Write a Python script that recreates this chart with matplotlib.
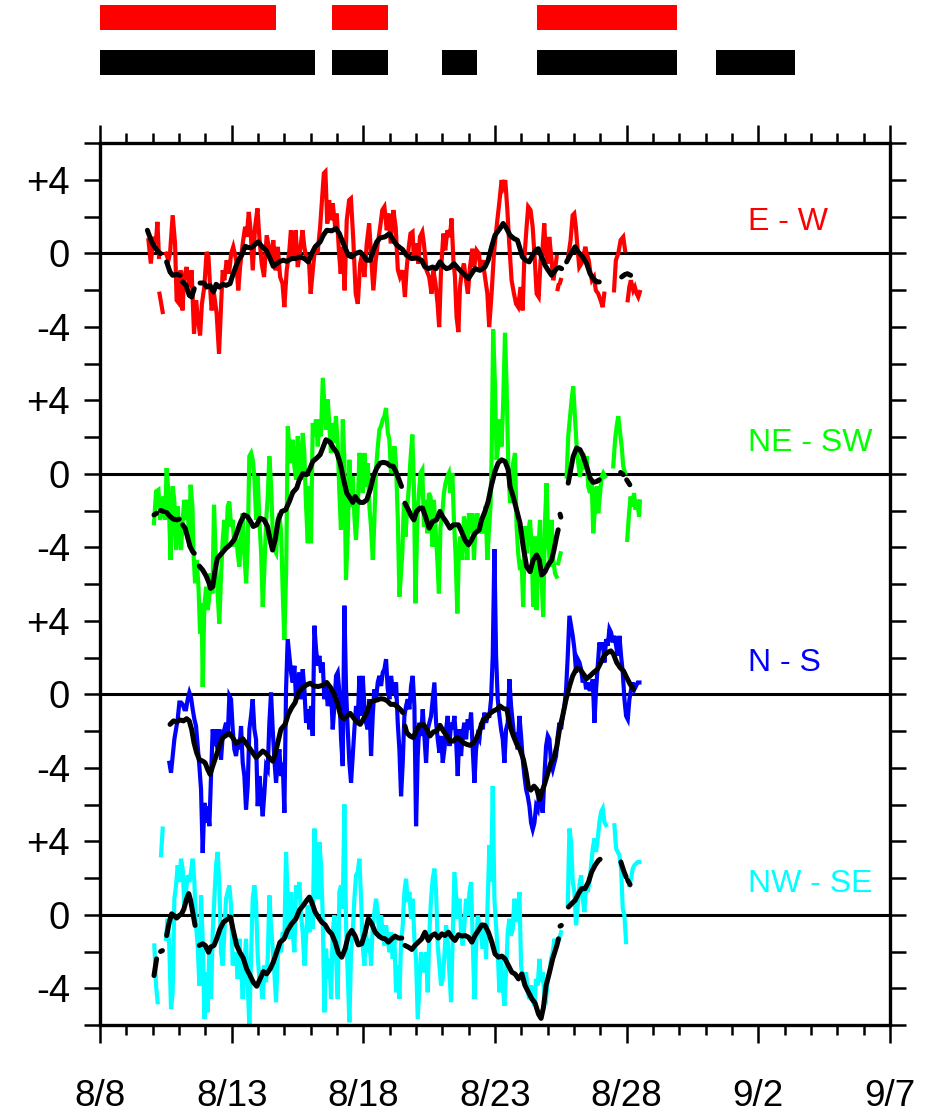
import numpy as np
import matplotlib
matplotlib.use("Agg")
import matplotlib.pyplot as plt
from matplotlib.ticker import FixedLocator, FixedFormatter, MultipleLocator

nan = np.nan

# ---------------------------------------------------------------- axis data
date_labels = ["8/8", "8/13", "8/18", "8/23", "8/28", "9/2", "9/7"]
date_ticks = [0, 5, 10, 15, 20, 25, 30]          # days since 8/8

# activity bars above the plot (start day, end day)
red_bars = [(0.0, 6.7), (8.8, 10.95), (16.6, 21.9)]
black_bars = [(0.0, 8.15), (8.8, 10.95), (13.0, 14.3), (16.6, 21.9), (23.4, 26.4)]

# vertical offsets of the four stacked records
offsets = {"E - W": 36, "NE - SW": 24, "N - S": 12, "NW - SE": 0}
colors = {"E - W": "#ff0000", "NE - SW": "#00ff00", "N - S": "#0000ff", "NW - SE": "#00ffff"}

# ---------------------------------------------------------------- E - W
ew_day = [1.84, 1.93, 2.03, 2.12, 2.18, 2.24, nan, 2.26, 2.38, nan,
          2.51, 2.60, 2.66, 2.76, 2.85, 2.91, 3.01, 3.06, 3.13, 3.20, 3.29, 3.39, 3.48, 3.57, 3.65,
          3.71, 3.80, 3.87, 3.96, 4.05, 4.12, 4.18, 4.24, 4.33, 4.43, 4.52, 4.60, 4.66, 4.72, 4.81,
          4.90, 4.98, 5.06, 5.17, 5.25, 5.32, 5.42, 5.51, 5.57, 5.65, 5.72, 5.80, 5.89, 5.98, 6.05,
          6.14, 6.23, 6.33, 6.41, 6.50, 6.58, 6.67, 6.75, 6.84, 6.93, 7.00, 7.09, 7.18, 7.25, 7.34,
          7.43, 7.51, 7.60, 7.69, 7.76, 7.85, 7.94, 8.00, 8.08, 8.17, 8.26, 8.36, 8.43, 8.50, 8.56,
          8.63, 8.70, 8.77, 8.84, 8.93, 8.99, 9.08, 9.14, 9.22, 9.29, 9.37, 9.46, 9.53, 9.62, 9.71,
          9.79, 9.88, 9.96, 10.04, 10.13, 10.22, 10.29, 10.38, 10.47, 10.55, 10.64, 10.72, 10.80,
          10.89, 10.96, 11.04, 11.14, 11.23, 11.31, 11.39, 11.49, 11.58, 11.64, 11.71, 11.79, 11.87,
          11.92, 12.00, 12.09, 12.15, 12.24, 12.30, 12.40, 12.50, 12.59, 12.66, 12.74, 12.82, 12.88,
          12.95, 13.04, 13.11, 13.19, 13.29, 13.35, 13.42, 13.48, 13.54, 13.61, 13.67, 13.73, 13.82,
          13.90, 13.97, 14.05, 14.14, 14.21, 14.30, 14.39, 14.45, 14.53, 14.62, 14.71, 14.78, 14.87,
          14.96, 15.06, 15.16, 15.25, 15.31, 15.39, 15.47, 15.54, 15.63, 15.72, 15.80, 15.88, 15.97,
          16.05, 16.11, 16.20, 16.26, 16.35, 16.43, 16.52, 16.58, 16.66, 16.73, 16.81, 16.87, 16.93,
          17.00, 17.06, 17.15, 17.21, 17.28, 17.34, nan, 17.38, 17.41, nan, 17.47, 17.50, nan,
          17.78, 17.87, 17.95, 18.01, 18.07, 18.14, 18.20, 18.28, 18.35, 18.43, 18.48, 18.56, 18.61,
          18.68, 18.76, 18.83, 18.92, 19.01, 19.09, 19.15, nan,
          19.52, 19.59, 19.68, 19.77, 19.87, 19.94, nan,
          20.04, 20.10, 20.16, 20.25, 20.31, 20.38, 20.44, 20.50]
ew_val = [0.71, -0.56, 0.89, 0.53, 1.71, -0.20, nan, -2.20, -3.20, nan,
          -0.02, -0.38, 0.00, 2.07, 0.53, -2.56, -2.75, -0.93, -3.11, -1.29, -0.75, -1.84, -0.93, -4.38, -2.56,
          -3.47, -4.47, -2.75, -1.84, 0.07, -0.20, -1.84, -3.11, -2.20, -3.29, -5.47, -2.75, -0.93, -1.47, -0.38,
          -1.11, -0.02, 0.35, -0.38, -2.02, -0.75, 0.53, 1.44, 0.89, 2.25, 1.25, -0.93, 1.44, 2.44, 0.89,
          -0.56, -1.29, 0.98, 0.35, -0.38, 0.71, -0.93, 0.35, -1.29, -1.65, -2.93, -0.93, -0.02, 1.25, -0.38,
          1.25, -0.75, 0.16, 1.25, 0.35, -0.38, -0.56, -2.20, -0.93, 0.35, -0.02, 1.44, 2.89, 4.35, 4.44,
          1.62, 2.89, 1.80, 2.71, 1.44, 2.16, -0.02, -1.11, 0.35, -2.02, 1.80, 2.89, 2.98, 0.71, -2.20,
          -2.75, -0.56, -0.02, -1.29, 0.53, 1.62, -0.02, -2.02, -0.38, 0.53, 1.44, 2.35, 2.53,
          1.25, 2.16, 0.53, 2.35, 1.40, -0.90, -1.29, -0.93, -2.38, -0.93, 0.16, 1.07, 1.16,
          -0.38, 0.53, -0.56, 0.89, 1.16, 0.53, -0.93, -1.29, -2.20, -0.93, -1.65, -2.75, -4.02,
          -0.93, 1.07, 0.16, 1.25, 0.89, 1.89, -0.38, -1.29, -3.47, -4.29, -1.84, -1.11, -0.56,
          -1.47, -2.20, -0.75, 0.25, -0.75, 0.16, -0.02, -0.93, -0.38, -1.29, -2.20, -4.02, -2.20,
          -0.02, 1.44, 2.71, 3.98, 3.62, 3.98, 2.35, 0.53, -1.47, -2.20, -2.75, -2.93, -1.84,
          -3.11, -0.38, 1.44, 2.53, 2.35, 1.44, -0.56, -2.20, -2.38, -0.38, 0.35, 1.62, -0.02,
          -0.56, 0.89, -0.38, -1.47, -0.93, -0.20, nan, -1.95, -1.75, nan, -1.60, -1.45, nan,
          -0.20, 0.71, 2.07, 2.16, 1.44, 0.16, -0.75, -0.56, -0.20, 0.35, -0.02, -0.38, -0.93,
          -1.47, -1.29, -2.02, -2.20, -2.56, -2.93, -2.20, nan,
          -2.02, -0.38, -0.02, 0.71, 0.89, 0.16, nan,
          -2.56, -1.84, -1.47, -2.02, -1.84, -2.20, -2.38, -2.11]

ew_mean_day = [1.80, 1.96, 2.09, 2.22, 2.30, nan, 2.53, 2.66, 2.76, 2.91, 3.04, nan,
               3.14, 3.27, 3.39, 3.48, 3.58, nan,
               3.80, 3.95, 4.05, 4.18, 4.31, 4.41, 4.53, 4.66, 4.79, 4.94, 5.06, 5.25, 5.38, 5.51,
               5.63, 5.76, 5.93, 6.01, 6.14, 6.31, 6.46, 6.58, 6.71, 6.84, 6.96, 7.09, 7.28, 7.41,
               7.60, 7.76, 7.91, 8.04, 8.17, 8.36, 8.48, 8.61, 8.80, 8.96, 9.09, 9.24, 9.43, 9.56,
               9.69, 9.88, 10.00, 10.13, 10.26, 10.38, 10.51, 10.64, 10.82, 10.99, 11.14, 11.27,
               11.39, 11.49, 11.64, 11.83, 12.02, 12.21, 12.34, 12.47, 12.63, 12.76, 12.91, 13.04,
               13.16, 13.29, 13.44, 13.61, 13.80, 13.99, 14.11, 14.24, 14.43, 14.62, 14.74, 14.87,
               15.00, 15.19, 15.31, 15.44, 15.57, 15.72, 15.85, 15.95, 16.04, 16.16, 16.30, 16.43,
               16.54, 16.64, 16.77, 16.90, 17.02, 17.15, 17.24, 17.34, nan, 17.44, 17.53, nan,
               17.72, 17.85, 18.04, 18.16, 18.33, 18.48, 18.61, 18.73, 18.86, 18.96, nan,
               19.81, 19.94, nan, 20.02, 20.15]
ew_mean_val = [1.25, 0.62, 0.31, 0.07, -0.02, nan, -0.47, -1.02, -1.20, -1.15, -1.20, nan,
               -1.56, -1.75, -2.29, -2.38, -1.93, nan,
               -1.62, -1.62, -1.84, -1.75, -2.11, -1.69, -1.84, -1.69, -1.75, -1.65, -1.11, -0.38, -0.11, 0.38,
               0.31, 0.31, 0.53, 0.62, 0.38, 0.16, -0.29, -0.71, -0.56, -0.44, -0.38, -0.44, -0.29, -0.29,
               -0.20, -0.29, -0.47, -0.02, 0.35, 0.62, 0.98, 1.25, 1.22, 1.35, 1.07, 0.53, -0.11, -0.20,
               -0.02, 0.07, -0.11, -0.38, -0.38, 0.16, 0.62, 0.84, 0.89, 1.07, 0.71, 0.44,
               0.31, 0.20, -0.11, -0.29, -0.25, -0.38, -0.75, -0.84, -0.75, -0.84, -0.47, -0.71,
               -0.84, -0.78, -0.56, -0.84, -1.11, -1.38, -1.11, -0.84, -0.93, -0.75, -0.38, 0.35,
               0.98, 1.35, 1.62, 1.35, 0.98, 0.80, 0.71, 0.25, -0.20, -0.38, -0.47, -0.11,
               0.16, 0.25, -0.20, -0.65, -0.93, -1.20, -1.02, -0.84, nan, -0.78, -0.84, nan,
               -0.47, -0.11, 0.35, 0.07, -0.20, -0.56, -1.11, -1.38, -1.56, -1.56, nan,
               -1.29, -1.15, nan, -1.11, -1.20]

# ---------------------------------------------------------------- NE - SW
nesw_day = [2.05, 2.13, 2.22, 2.28, 2.34, 2.41, 2.47, 2.53, 2.60, 2.68, 2.76, 2.82, 2.89, 2.95,
            3.01, 3.08, 3.14, 3.20, 3.25, 3.32, 3.39, 3.44, 3.51, 3.55, 3.61, 3.67, 3.74, 3.80,
            3.86, 3.90, 3.96, 4.03, 4.09, 4.15, 4.20, 4.27, 4.33, 4.39, 4.46, 4.53, 4.60, 4.66,
            4.72, 4.79, 4.85, 4.91, 4.98, 5.04, 5.10, 5.17, 5.23, 5.29, 5.36, 5.42, 5.48, 5.55,
            5.61, 5.67, 5.74, 5.80, 5.86, 5.93, 5.99, 6.05, 6.12, 6.18, 6.24, 6.31, 6.37, 6.43,
            6.50, 6.56, 6.62, 6.69, 6.75, 6.81, 6.88, 6.94, 7.00, 7.07, 7.13, 7.19, 7.26, 7.32,
            7.38, 7.45, 7.51, 7.57, 7.63, 7.70, 7.76, 7.82, 7.89, 7.95, 8.01, 8.08, 8.14, 8.20,
            8.27, 8.33, 8.39, 8.46, 8.52, 8.58, 8.65, 8.71, 8.77, 8.84, 8.90, 8.96, 9.03, 9.09,
            9.15, 9.22, 9.28, 9.34, 9.41, 9.47, 9.53, 9.60, 9.66, 9.72, 9.79, 9.85, 9.91, 9.98,
            10.04, 10.10, 10.17, 10.23, 10.29, 10.36, 10.42, 10.48, 10.55, 10.61, 10.67, 10.74,
            10.80, 10.86, 10.93, 10.99, 11.05, 11.12, 11.18, 11.24, 11.31, 11.37,
            11.48, 11.54, 11.60, 11.67, 11.73, 11.79, 11.86, 11.92, 11.98, 12.05, 12.11, 12.17,
            12.24, 12.30, 12.36, 12.43, 12.49, 12.55, 12.62, 12.68, 12.74, 12.81, 12.87, 12.93,
            12.99, 13.06, 13.12, 13.19, 13.25, 13.31, 13.38, 13.44, 13.50, 13.57, 13.63, 13.69,
            13.76, 13.82, 13.88, 13.95, 14.01, 14.07, 14.14, 14.20, 14.26, 14.33, 14.39, 14.45,
            14.52, 14.58, 14.64, 14.71, 14.77, 14.83, 14.87, 14.93, 15.00, 15.06, 15.12, 15.19,
            15.25, 15.31, 15.38, 15.44, 15.50, 15.57, 15.63, 15.69, 15.76, 15.82, 15.88, 15.95,
            16.01, 16.07, 16.14, 16.20, 16.26, 16.33, 16.39, 16.45, 16.52, 16.58, 16.64, 16.71,
            16.77, 16.83, 16.90, 16.96, 17.02, 17.09, 17.15, 17.21, 17.28, 17.34, nan,
            17.40, 17.49, nan,
            17.72, 17.78, 17.85, 17.91, 17.97, 18.04, 18.10, 18.16, 18.23, 18.29, 18.35, 18.42,
            18.48, 18.54, 18.61, 18.67, 18.73, 18.80, 18.86, 18.92, 18.99, 19.05, 19.11, 19.18, nan,
            19.49, 19.56, 19.62, 19.68, 19.75, 19.81, 19.87, 19.94, nan,
            20.02, 20.09, 20.15, 20.21, 20.28, 20.34, 20.40, 20.47, 20.50]
nesw_val = [-2.69, -0.96, -0.87, -2.51, -2.05, -1.24, -2.51, 0.31, -1.05, -4.69, -0.69, -1.42, -4.15, -1.78,
            -3.24, -4.15, -2.51, -1.42, -2.51, -1.42, -3.96, -0.60, -1.78, -4.33, -5.96, -4.69, -6.15, -8.69,
            -7.05, -11.60, -7.24, -6.15, -7.42, -6.69, -5.42, -6.51, -1.69, -4.33, -6.33, -8.15, -5.42, -3.60,
            -2.51, -3.96, -1.78, -1.51, -2.87, -2.51, -3.96, -3.24, -4.33, -5.05, -3.42, -2.15, -4.33, -5.96,
            -3.96, 0.95, 1.13, 0.76, -0.15, -2.51, -0.15, -2.51, -4.33, -7.24, -5.24, -2.51, -1.24, 0.95,
            -0.69, -3.24, -4.15, -4.33, -2.51, -2.15, -3.24, -6.51, -9.05, -5.24, 2.58, 1.49, 0.58, 1.85,
            0.40, -0.33, 2.04, 0.58, -0.33, 2.22, 1.13, -1.60, -3.78, -0.69, -3.78, 2.76, 2.04, 2.95,
            1.49, 2.95, 2.04, 5.22, 3.85, 2.40, 4.04, 2.58, 1.13, 2.76, 1.67, 3.13, 1.49, -1.05,
            -3.05, 2.95, 0.76, -5.78, -3.24, 0.76, -1.78, -0.15, -2.33, -3.60, -1.78, 1.13, 0.76, -1.05,
            1.13, -0.69, 0.58, -1.78, -2.87, -4.69, -2.51, 0.22, 1.49, 2.40, 2.58, 2.95,
            3.13, 3.58, 2.22, 1.85, 0.04, 0.40, 1.49, 0.58, -2.51, -6.69,
            -4.33, -1.60, -3.42, -1.78, -0.69, 0.76, 2.13, -0.69, -7.05, -2.51, -1.05, 0.04,
            0.22, -2.87, -1.42, -3.24, -1.05, -1.24, -3.96, -1.42, -2.87, -4.69, -6.51, -2.87,
            -2.33, -1.05, -0.51, -0.15, 0.04, -1.05, 0.04, -2.51, -4.33, -7.60, -4.15, -3.42,
            -4.69, -2.33, -2.87, -4.69, -2.15, -3.24, -2.15, -4.69, -2.87, -2.15, -3.24, -2.87,
            -3.24, -2.51, -1.78, -4.69, -3.05, -1.78, 0.76, 7.85, 4.76, 0.76, 1.49, 2.95,
            1.49, 3.85, 7.67, 4.76, 0.76, -1.60, -0.69, 0.58, 1.13, -2.87, -4.33, -5.24,
            -4.69, -7.24, -2.87, -4.33, -3.24, -2.51, -3.96, -7.24, -3.42, -7.42, -4.33, -2.51,
            -5.78, -7.78, -2.51, -0.51, -3.60, -5.05, -2.51, -4.69, -5.42, -5.60, nan,
            -4.87, -4.33, nan,
            -0.15, 2.04, 3.13, 4.04, 4.76, 2.95, 1.49, 0.58, -0.15, 0.58, 1.13, 0.22,
            0.95, -0.69, -1.05, -0.33, -3.24, -1.78, -0.69, -2.15, -1.05, -0.15, 0.04, -0.15, nan,
            0.40, 1.85, 2.58, 3.13, 2.22, 1.49, 0.40, 0.04, nan,
            -3.60, -2.15, -1.24, -1.78, -1.05, -1.96, -1.42, -2.33, -1.51]

nesw_mean_day = [2.05, 2.15, nan, 2.30, 2.41, nan, 2.53, 2.66, 2.79, 2.91, 3.01, nan,
                 3.14, 3.23, 3.32, 3.42, 3.52, 3.58, nan,
                 3.77, 3.90, 4.03, 4.12, 4.20, 4.28, 4.37, 4.46, 4.62, 4.79, 4.94, 5.09, 5.19, 5.32,
                 5.47, 5.60, 5.72, 5.82, 5.95, 6.08, 6.23, 6.36, 6.46, 6.55, 6.65, 6.77, 6.90, 7.05,
                 7.19, 7.32, 7.47, 7.57, 7.70, 7.85, 7.98, 8.08, 8.23, 8.36, 8.46, 8.58, 8.74, 8.86,
                 8.99, 9.12, 9.24, 9.37, 9.50, 9.60, 9.69, 9.77, 9.88, 10.00, 10.13, 10.26, 10.38,
                 10.51, 10.64, 10.76, 10.89, 11.01, 11.14, 11.27, 11.45, nan,
                 11.58, 11.71, 11.83, 11.92, 12.02, 12.15, 12.25, 12.38, 12.50, 12.63, 12.78, 12.91,
                 13.01, 13.14, 13.29, 13.42, 13.61, 13.73, 13.86, 13.99, 14.11, 14.24, 14.40, 14.49,
                 14.62, 14.74, 14.87, 15.00, 15.12, 15.25, 15.38, 15.50, 15.57, 15.69, 15.82, 15.95,
                 16.07, 16.20, 16.33, 16.45, 16.58, 16.68, 16.77, 16.90, 17.02, 17.15, 17.24, 17.34,
                 17.40, nan, 17.47, 17.50, nan,
                 17.78, 17.85, 17.97, 18.10, 18.23, 18.35, 18.48, 18.61, 18.73, 18.86, 18.96, nan,
                 19.77, 19.87, nan, 20.00, 20.12]
nesw_mean_val = [-2.24, -2.15, nan, -2.00, -2.05, nan, -2.11, -2.33, -2.47, -2.51, -2.47, nan,
                 -2.78, -2.96, -3.42, -3.96, -4.24, -4.33, nan,
                 -5.02, -5.24, -5.56, -5.87, -6.24, -6.15, -5.24, -4.60, -4.33, -4.05, -3.87, -3.60, -3.24, -2.69,
                 -2.24, -2.33, -2.60, -2.87, -2.78, -2.42, -2.51, -2.87, -3.60, -4.15, -3.60, -2.51, -2.05, -1.96,
                 -1.51, -1.02, -0.78, -0.33, 0.00, -0.05, 0.31, 0.67, 0.85, 1.04, 1.40, 1.85, 1.71, 1.40,
                 1.16, 0.58, -0.24, -1.05, -1.33, -1.56, -1.24, -1.42, -1.56, -1.56, -1.42, -0.87, -0.15,
                 0.31, 0.58, 0.62, 0.58, 0.44, 0.40, 0.00, -0.69, nan,
                 -1.60, -1.96, -2.33, -2.51, -2.05, -1.87, -1.87, -2.42, -2.96, -2.60, -2.51, -2.05,
                 -2.33, -2.60, -2.96, -2.78, -2.78, -3.15, -3.60, -3.87, -3.60, -3.24, -3.05, -2.51,
                 -2.05, -1.51, -0.60, 0.13, 0.58, 0.76, 0.67, 0.22, -0.69, -1.24, -1.96, -2.69,
                 -3.96, -5.05, -5.33, -4.69, -4.42, -4.69, -5.51, -5.33, -4.96, -4.69, -4.15, -3.42,
                 -3.05, nan, -2.20, -2.36, nan,
                 -0.51, 0.04, 0.95, 1.40, 1.31, 0.95, 0.40, -0.24, -0.47, -0.42, -0.33, nan,
                 0.07, -0.05, nan, -0.33, -0.60]

# ---------------------------------------------------------------- N - S
# regularly sampled record: first sample day and spacing (days)
ns_start, ns_step = 2.634, 0.0633
ns_val = [-3.73, -4.27, -3.36, -2.45, -1.91, -1.36, -0.45, -0.45, -0.55, -0.82, -0.82, -0.27, 0.09,
          -0.18, -0.82, -1.36, -1.73, -2.82, -3.91, -5.18, -8.64, -5.91, -7.00, -6.09, -7.18, -4.45,
          -1.91, -2.82, -1.91, -3.00, -1.91, -3.55, -2.27, -1.91, -1.55, -2.27, -0.09, -0.27, -1.91,
          -3.00, -3.36, -2.64, -3.00, -1.73, -3.73, -4.45, -6.27, -5.00, -1.91, -1.18, -0.27, -1.91,
          -2.45, -6.09, -4.45, -5.55, -6.64, -5.36, -3.91, -4.09, -1.55, 0.09, -1.91, -3.55, -4.82,
          -3.73, -3.00, -4.45, -3.73, -6.45, 0.27, 3.00, 2.09, 1.18, 0.64, 1.55, -0.27, 0.64, 1.18,
          -0.27, 1.36, 0.27, -1.55, -0.82, -1.91, -0.64, -2.27, 3.73, 2.45, 1.55, 2.09, 1.18, 1.73,
          -0.27, 0.64, -0.64, -0.27, 0.27, -1.91, -0.64, 1.00, 1.18, 0.09, -2.45, -3.91, 4.82, 0.27,
          -1.91, -3.73, -4.82, -3.36, -1.91, -0.64, -1.55, 1.00, -1.18, 1.00, -0.64, -1.55, -1.91,
          -0.27, -3.36, -1.18, 0.27, -0.27, 0.64, 1.00, 0.45, 1.18, 1.36, 1.91, 0.27, -0.27, 1.00,
          0.27, 0.09, 0.64, -1.55, -3.00, -5.55, -3.73, -1.18, -0.64, -0.27, -0.82, 0.45, 1.00,
          -0.64, -7.18, -3.36, -1.55, -2.27, -0.82, -2.27, -3.73, -1.91, -1.55, -1.18, -0.27, 0.64,
          -1.55, -2.45, -3.18, -2.27, -3.73, -3.00, -1.91, -1.18, -2.82, -1.55, -1.91, -1.18, -2.45,
          -4.45, -1.91, -3.36, -2.09, -1.55, -2.45, -1.36, -1.91, -1.00, -3.00, -4.82, -3.00, -2.27,
          -2.45, -1.55, -1.91, -1.00, -1.55, -1.18, -1.18, -0.27, 2.09, 7.90, 2.09, -0.27, -1.18,
          -1.91, -2.45, -3.73, -1.91, -1.55, 0.82, -0.64, -1.55, -2.45, -2.09, -3.00, -1.18, -2.27,
          -3.55, -4.45, -5.18, -5.55, -6.09, -7.00, -7.36, -7.00, -6.09, -6.27, -5.18, -5.91, -6.45,
          -4.45, -2.82, -2.27, -2.45, -3.73, -4.09, -3.73, -3.36, -2.27, -1.55, -1.91, -1.18, -0.64,
          0.27, 2.09, 4.27, 3.73, 3.18, 2.45, 1.18, 1.91, 1.73, 1.36, 0.64, 1.00, 0.27, 0.64, 0.27,
          0.27, 0.82, -1.55, 0.27, 1.55, 2.82, 2.45, 2.82, 1.73, 3.00, 2.64, 3.55, 3.36, 2.82, 3.18,
          2.64, 2.09, 3.18, 2.09, 1.18, -0.27, -1.18, -1.36, -0.27, 0.27, 0.64, 0.27, 0.45, 0.64, 0.64]

ns_mean_day = [2.66, 2.79, 2.91, 3.04, 3.17, 3.29, 3.39, 3.48, 3.57, 3.67, 3.77, 3.90, 3.99, 4.09,
               4.18, 4.28, 4.41, 4.53, 4.66, 4.79, 4.91, 5.04, 5.17, 5.29, 5.42, 5.55, 5.67, 5.80,
               5.93, 6.05, 6.18, 6.31, 6.43, 6.56, 6.65, 6.75, 6.87, 7.03, 7.15, 7.28, 7.41, 7.53,
               7.70, 7.82, 7.98, 8.13, 8.29, 8.46, 8.61, 8.76, 8.89, 9.01, 9.14, 9.27, 9.39, 9.50,
               9.62, 9.75, 9.88, 10.00, 10.13, 10.26, 10.38, 10.53, 10.66, 10.79, 10.91, 11.04,
               11.17, 11.29, 11.42, 11.50, nan,
               11.58, 11.65, 11.77, 11.90, 12.03, 12.15, 12.28, 12.41, 12.53, 12.66, 12.79, 12.91,
               13.04, 13.17, 13.29, 13.42, 13.55, 13.67, 13.80, 13.93, 14.05, 14.18, 14.31, 14.43,
               14.56, 14.69, 14.81, 14.94, 15.07, 15.19, 15.32, 15.45, 15.57, 15.70, 15.83, 15.95,
               16.08, 16.18, 16.27, 16.36, 16.48, 16.59, 16.69, 16.77, 16.88, 16.99, 17.12, 17.24,
               17.35, 17.45, 17.57, 17.70, 17.83, 17.95, 18.10, 18.23, 18.36, 18.48, 18.61, 18.74,
               18.89, 19.02, 19.14, 19.27, 19.40, 19.50, 19.62, 19.75, 19.88, 20.00, 20.13, 20.26]
ns_mean_val = [-1.64, -1.45, -1.51, -1.40, -1.45, -1.33, -1.45, -1.91, -2.64, -3.18, -3.55, -3.64, -3.73, -4.09,
               -4.36, -3.91, -3.36, -2.82, -2.36, -2.24, -2.13, -2.36, -2.67, -2.55, -2.42, -2.67, -2.91, -3.18,
               -3.45, -3.27, -3.09, -3.22, -3.45, -3.64, -3.27, -2.64, -1.91, -1.64, -1.09, -0.73, -0.45, 0.09,
               0.36, 0.49, 0.60, 0.45, 0.42, 0.49, 0.64, 0.36, 0.00, -0.45, -1.18, -1.33, -1.18, -1.04,
               -1.27, -1.51, -1.64, -1.36, -1.00, -0.45, -0.36, -0.31, -0.24, -0.27, -0.36, -0.55,
               -0.55, -0.67, -0.85, -1.00, nan,
               -1.73, -2.09, -2.27, -2.36, -1.91, -1.69, -1.64, -1.91, -2.27, -2.05, -2.00, -1.69,
               -2.00, -2.27, -2.55, -2.55, -2.36, -2.45, -2.64, -2.73, -2.78, -2.64, -2.36, -1.91,
               -1.36, -1.27, -1.04, -0.91, -0.82, -0.64, -0.78, -0.82, -1.73, -2.27, -2.73, -3.00,
               -3.55, -4.27, -5.09, -5.22, -5.00, -5.18, -5.73, -5.36, -4.91, -4.36, -3.73, -3.45,
               -2.82, -1.91, -1.18, -0.27, 0.45, 1.00, 1.40, 1.36, 1.09, 0.85, 1.00, 1.18,
               1.36, 1.73, 2.09, 2.27, 2.36, 2.18, 1.73, 1.45, 1.27, 0.91, 0.55, 0.27]

# ---------------------------------------------------------------- NW - SE
nwse_start, nwse_step = 2.064, 0.0633
nwse_val = [-1.67, -3.85, -4.76, nan, 3.24, 4.69, nan,
            -1.31, -0.22, -1.85, -5.13, -4.22, 0.87, 1.60, 2.69, 1.78, 3.05, 2.51, 0.51, 1.24, 2.15,
            1.78, 2.33, 3.05, 1.78, -0.58, -1.67, -3.85, 1.05, -1.31, -5.67, -3.13, -5.31, -1.85,
            -4.58, -0.95, 0.87, 2.69, 3.42, 1.60, -2.04, -2.76, -0.95, 0.87, 1.24, 1.60, 0.51, -2.76,
            -2.40, -2.04, -3.49, -1.31, -2.76, -4.58, -2.76, -1.31, -3.85, -6.04, -2.40, 0.87, 1.60,
            0.69, -2.22, -3.49, -3.85, -4.58, -2.76, -3.67, -2.40, 1.05, -0.58, -1.85, -3.13, -4.76,
            -2.40, -1.49, -2.04, -0.95, -1.31, 3.42, 0.87, -1.31, 1.24, -0.95, -2.04, 1.60, 0.87,
            1.78, -0.04, -0.95, -2.76, -1.31, 0.51, -0.95, 0.87, -0.76, 4.69, 2.69, 0.87, 3.96, 2.69,
            -0.04, -5.31, -1.85, -3.49, -2.40, -4.58, -0.95, -0.04, -2.22, -4.58, 1.24, 1.60, 0.33,
            6.00, -0.58, -3.13, -5.85, -2.04, -0.95, 0.87, 2.15, 2.33, 3.05, 0.87, -1.67, -2.76,
            -0.95, -2.04, -1.31, -2.76, -0.58, 0.15, 0.87, 0.15, -1.31, -0.04, -0.95, -1.67, -0.58,
            -1.31, -2.04, -0.95, -2.40, -1.31, -4.22, -2.76, -4.58, -1.49, -0.58, 1.24, 1.96, 0.69,
            1.24, -0.22, 0.87, -1.31, -2.40, -5.67, -3.85, -2.04, -3.13, -2.76, -2.04, -4.22, -0.95,
            0.87, 1.96, 2.51, 1.24, -1.67, -2.76, -3.85, -3.49, -2.22, -0.58, -1.49, -3.13, -4.76,
            -1.31, 2.33, 1.05, -0.22, 0.87, -0.95, -1.67, -0.58, 0.87, -0.04, 1.24, 1.78, -1.31,
            -4.58, -1.85, -0.04, -0.58, -1.13, -1.85, -0.58, -2.40, 0.87, 3.78, 1.78, 7.00, 0.87,
            -0.58, -2.04, -4.22, -2.40, -3.85, -4.95, -3.13, -0.95, -0.22, -1.13, -0.76, 0.87, 0.51,
            -0.40, 1.24, -2.76, -3.49, -3.85, -3.13, -4.22, -4.58, -3.85, -4.58, -4.95, -3.49, -3.85,
            -2.40, -3.67, -3.13, -4.40, -4.58, -3.49, -3.13, -2.40, -2.04, -1.31, -1.67, -1.49, -1.31,
            -0.95, nan, nan, nan,
            0.51, 4.69, 3.96, 1.78, 1.24, -0.58, 0.51, 1.60, 2.15, 0.87, 0.15, 1.60, 1.24, 1.78,
            2.69, 3.60, 4.15, 3.42, 4.15, 5.05, 5.60, 5.78, 5.05, 4.87, nan, nan, nan, nan,
            4.87, 3.60, 3.42, 3.24, 2.51, 0.33, -0.04, -1.49, nan, 1.60, 1.96, 2.51, 2.69, 2.78,
            2.87, 2.87]

nwse_mean_day = [2.05, 2.15, nan, 2.30, 2.37, nan,
                 2.53, 2.63, 2.72, 2.81, 2.91, 3.01, 3.10, 3.19, 3.29, 3.37, 3.44, 3.52, 3.61, nan,
                 3.77, 3.90, 4.00, 4.12, 4.20, 4.33, 4.43, 4.56, 4.69, 4.84, 4.96, 5.06, 5.19, 5.32,
                 5.44, 5.57, 5.70, 5.82, 5.95, 6.08, 6.20, 6.33, 6.46, 6.58, 6.71, 6.84, 6.99, 7.12,
                 7.28, 7.44, 7.57, 7.72, 7.85, 7.95, 8.04, 8.17, 8.29, 8.42, 8.55, 8.67, 8.80, 8.93,
                 9.05, 9.18, 9.31, 9.43, 9.56, 9.69, 9.81, 9.94, 10.07, 10.19, 10.32, 10.45, 10.57,
                 10.70, 10.83, 10.95, 11.08, 11.20, 11.33, 11.46, nan,
                 11.58, 11.71, 11.84, 11.96, 12.09, 12.22, 12.34, 12.47, 12.60, 12.72, 12.85, 12.98,
                 13.10, 13.23, 13.36, 13.48, 13.61, 13.74, 13.86, 13.99, 14.12, 14.24, 14.37, 14.50,
                 14.62, 14.75, 14.88, 15.00, 15.13, 15.26, 15.38, 15.51, 15.64, 15.76, 15.89, 16.02,
                 16.14, 16.27, 16.40, 16.52, 16.65, 16.75, 16.84, 16.94, 17.07, 17.19, 17.35, 17.41, nan,
                 17.47, 17.52, nan,
                 17.79, 17.91, 18.04, 18.17, 18.29, 18.42, 18.55, 18.67, 18.80, 18.93, 18.99, nan,
                 19.78, 19.88, 19.98, nan, 20.04, 20.13]
nwse_mean_val = [-3.31, -2.40, nan, -2.00, -1.95, nan,
                 -1.13, -0.40, 0.05, -0.04, -0.18, -0.04, 0.05, 0.33, 0.87, 1.15, 0.78, 0.15, -0.58, nan,
                 -1.67, -1.58, -1.67, -2.04, -1.76, -1.67, -1.31, -0.76, -0.40, -0.25, -0.13, -0.85, -1.67, -2.07,
                 -2.36, -2.95, -3.31, -3.67, -3.89, -3.49, -3.09, -3.22, -2.95, -2.58, -2.04, -1.49, -1.31, -0.85,
                 -0.49, -0.22, 0.24, 0.51, 0.78, 0.96, 0.69, 0.15, -0.13, -0.40, -0.55, -0.85, -1.04, -1.49,
                 -2.07, -2.31, -1.85, -1.13, -0.85, -1.16, -1.64, -1.58, -0.95, -0.22, -0.49, -0.95, -1.13,
                 -1.27, -1.31, -1.49, -1.31, -1.16, -1.27, -1.27, nan,
                 -1.67, -1.76, -1.89, -1.67, -1.49, -1.31, -0.95, -1.40, -1.13, -1.04, -1.27, -1.04,
                 -1.13, -0.95, -1.22, -1.40, -1.09, -1.16, -1.13, -1.22, -1.49, -1.13, -0.85, -0.55,
                 -0.58, -0.95, -1.49, -2.13, -2.31, -2.25, -2.40, -2.76, -3.13, -3.22, -3.49, -3.22,
                 -3.85, -4.22, -4.58, -4.80, -5.40, -5.64, -5.04, -3.85, -3.13, -2.40, -1.67, -1.31, nan,
                 -0.62, -0.58, nan,
                 0.42, 0.60, 0.78, 1.15, 1.42, 1.42, 1.78, 2.33, 2.69, 2.96, 3.02, nan,
                 2.87, 2.42, 2.05, nan, 1.87, 1.64]

# ---------------------------------------------------------------- figure
FONT = "Liberation Sans"
plt.rcParams["font.family"] = [FONT, "DejaVu Sans"]

W, H = 928, 1117
fig = plt.figure(figsize=(W / 100, H / 100), dpi=100)
ax = fig.add_axes([100 / W, 1 - 1025 / H, 790 / W, 882 / H])
bax = fig.add_axes([100 / W, 1 - 80 / H, 790 / W, 80 / H])

# activity bars
for a, b in red_bars:
    bax.add_patch(plt.Rectangle((a, 5.0), b - a, 2.5, color="#ff0000", lw=0))
for a, b in black_bars:
    bax.add_patch(plt.Rectangle((a, 0.5), b - a, 2.5, color="black", lw=0))
bax.set_xlim(0, 30)
bax.set_ylim(0, 8)
bax.axis("off")

# zero lines of each record
for name, off in offsets.items():
    ax.axhline(off, color="black", lw=2.2, zorder=1)

series = {
    "E - W": (ew_day, ew_val, ew_mean_day, ew_mean_val),
    "NE - SW": (nesw_day, nesw_val, nesw_mean_day, nesw_mean_val),
    "N - S": (ns_start + ns_step * np.arange(len(ns_val)), ns_val, ns_mean_day, ns_mean_val),
    "NW - SE": (nwse_start + nwse_step * np.arange(len(nwse_val)), nwse_val,
                nwse_mean_day, nwse_mean_val),
}

for name, (d, v, md, mv) in series.items():
    off = offsets[name]
    ax.plot(d, np.asarray(v, float) + off, color=colors[name], lw=3.0, zorder=2,
            solid_joinstyle="miter")
for name, (d, v, md, mv) in series.items():
    off = offsets[name]
    ax.plot(md, np.asarray(mv, float) + off, color="black", lw=3.6, zorder=3,
            solid_capstyle="round")
    ax.text(24.6, off + 1.7, name, color=colors[name], fontsize=23, ha="left",
            va="center", family=FONT)

ax.set_xlim(0, 30)
ax.set_ylim(-6, 42)

# x axis: 5-day labels, daily minor ticks, on top and bottom
ax.xaxis.set_major_locator(FixedLocator(date_ticks))
ax.xaxis.set_major_formatter(FixedFormatter(date_labels))
ax.xaxis.set_minor_locator(MultipleLocator(1))

# y axis: ticks every 2 units, labels at +4 / 0 / -4 of each record
ytick_pos = list(range(-6, 43, 2))
ylab = {}
for off in offsets.values():
    ylab[off + 4] = "+4"
    ylab[off] = "0"
    ylab[off - 4] = "-4"
ax.yaxis.set_major_locator(FixedLocator(ytick_pos))
ax.yaxis.set_major_formatter(FixedFormatter([ylab.get(p, "") for p in ytick_pos]))

ax.tick_params(axis="x", which="major", direction="out", length=13, width=1.8,
               top=True, bottom=True, labeltop=False, labelsize=26.5, pad=26)
ax.tick_params(axis="x", which="minor", direction="out", length=7, width=1.8,
               top=True, bottom=True)
ax.tick_params(axis="y", which="major", direction="out", length=11.5, width=1.8,
               left=True, right=True, labelright=False, labelsize=27.5, pad=10)
for lab in ax.get_xticklabels() + ax.get_yticklabels():
    lab.set_family(FONT)

for s in ax.spines.values():
    s.set_linewidth(2.4)

fig.savefig("out.png", dpi=100)
